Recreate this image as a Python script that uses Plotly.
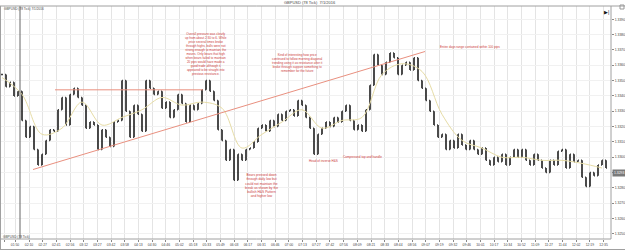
import plotly.graph_objects as go
import numpy as np

# ---- data ----
close = [1.3354, 1.3346, 1.3349, 1.3340, 1.3343, 1.3324, 1.3313, 1.3320, 1.3305, 1.3295,
         1.3302, 1.3311, 1.3318, 1.3317, 1.3331, 1.3339, 1.3321, 1.3341, 1.3345, 1.3339,
         1.3334, 1.3319, 1.3323, 1.3321, 1.3305, 1.3318, 1.3313, 1.3307, 1.3323, 1.3324,
         1.3350, 1.3330, 1.3313, 1.3334, 1.3328, 1.3317, 1.3350, 1.3345, 1.3341, 1.3343,
         1.3332, 1.3336, 1.3326, 1.3331, 1.3341, 1.3335, 1.3323, 1.3334, 1.3331, 1.3335,
         1.3344, 1.3350, 1.3343, 1.3337, 1.3318, 1.3311, 1.3298, 1.3305, 1.3285, 1.3302,
         1.3298, 1.3305, 1.3306, 1.3310, 1.3319, 1.3321, 1.3317, 1.3324, 1.3320, 1.3328,
         1.3324, 1.3330, 1.3331, 1.3327, 1.3337, 1.3334, 1.3326, 1.3319, 1.3302, 1.3315,
         1.3319, 1.3323, 1.3320, 1.3326, 1.3323, 1.3330, 1.3334, 1.3324, 1.3318, 1.3321,
         1.3317, 1.3331, 1.3347, 1.3367, 1.3360, 1.3354, 1.3362, 1.3368, 1.3365, 1.3354,
         1.3360, 1.3362, 1.3357, 1.3365, 1.3350, 1.3345, 1.3337, 1.3330, 1.3321, 1.3313,
         1.3315, 1.3305, 1.3311, 1.3306, 1.3315, 1.3308, 1.3305, 1.3311, 1.3305, 1.3302,
         1.3306, 1.3298, 1.3295, 1.3300, 1.3297, 1.3302, 1.3295, 1.3300, 1.3305, 1.3300,
         1.3305, 1.3298, 1.3295, 1.3302, 1.3298, 1.3293, 1.3290, 1.3298, 1.3295, 1.3304,
         1.3305, 1.3293, 1.3302, 1.3297, 1.3298, 1.3287, 1.3281, 1.3290, 1.3288, 1.3295,
         1.3298, 1.3293]

ma_bars = [0, 5, 10, 15, 20, 25, 30, 35, 40, 45, 50, 55, 60, 65, 70, 75, 80, 85, 90, 95,
           100, 105, 110, 115, 120, 125, 130, 135, 140, 145, 150]
ma_vals = [1.3352, 1.3341, 1.3315, 1.3319, 1.3336, 1.3321, 1.3326, 1.3331, 1.3339, 1.3334,
           1.3336, 1.3332, 1.3306, 1.3315, 1.3323, 1.3331, 1.3319, 1.3324, 1.3326, 1.3354,
           1.3361, 1.3356, 1.3328, 1.3311, 1.3306, 1.3300, 1.3300, 1.3298, 1.3298, 1.3296,
           1.3293]

resist_bars = [13.25, 50.25]
resist_vals = [1.3344, 1.3344]
trend_bars = [7.75, 105.75]
trend_vals = [1.3292, 1.3369]

x_tick_labels = ["01:33", "01:50", "02:10", "02:27", "02:41", "02:56", "03:12", "03:27", "03:42",
                 "03:58", "04:13", "04:30", "04:46", "05:02", "05:18", "05:33", "05:49", "06:03",
                 "06:17", "06:31", "06:46", "07:00", "07:13", "07:27", "07:42", "07:56", "08:09",
                 "08:21", "08:33", "08:44", "08:56", "09:07", "09:19", "09:32", "09:46", "10:01",
                 "10:17", "10:34", "10:52", "11:09", "11:27", "11:44", "12:02", "12:19", "12:35"]
y_tick_vals = [1.3250, 1.3260, 1.3270, 1.3280, 1.3290, 1.3300, 1.3310, 1.3320, 1.3330,
               1.3340, 1.3350, 1.3360, 1.3370, 1.3380, 1.3390]

# ---- geometry helpers (layout only) ----
W, H = 625, 251
L, R, T, B = 1, 14, 6, 12
PW, PH = W - L - R, H - T - B


def px(xp):
    return (xp - L) / PW


def py(yp):
    return (H - B - yp) / PH


bars = list(range(len(close)))
open_ = [close[0]] + close[:-1]
high = [max(o, c) for o, c in zip(open_, close)]
low = [min(o, c) for o, c in zip(open_, close)]

tick_px = [4, 15] + list(29 + 13.68 * np.arange(43))
tick_idx = [(p - 2) / 4 for p in tick_px]

fig = go.Figure()
fig.add_trace(go.Scatter(x=ma_bars, y=ma_vals, mode="lines",
                         line=dict(color="#e6dca6", width=1, shape="spline"),
                         hoverinfo="skip", showlegend=False))
fig.add_trace(go.Scatter(x=resist_bars, y=resist_vals, mode="lines",
                         line=dict(color="#e9907f", width=1), showlegend=False))
fig.add_trace(go.Scatter(x=trend_bars, y=trend_vals, mode="lines",
                         line=dict(color="#e9907f", width=1), showlegend=False))
fig.add_trace(go.Ohlc(x=bars, open=open_, high=high, low=low, close=close,
                      increasing=dict(line=dict(color="#111111", width=1.5)),
                      decreasing=dict(line=dict(color="#111111", width=1.5)),
                      tickwidth=0.2, showlegend=False))

red = "#cc3b3b"
F = "Liberation Sans"
ann = []


def add_text(xp, yp, text, size=3.1, color=red, xanchor="center", yanchor="top", bg=None):
    d = dict(x=px(xp), y=py(yp), xref="paper", yref="paper", text=text, showarrow=False,
             xanchor=xanchor, yanchor=yanchor, align="center",
             font=dict(family=F, size=size, color=color))
    if bg:
        d["bgcolor"] = bg
    ann.append(d)


add_text(206, 30, "<br>".join([
    "Overall pressure was clearly", "up from about 2:30 to 6. While",
    "price several times broke", "through highs, bulls were not",
    "strong enough to maintain the", "moves. Only bears that high",
    "when bears failed to maintain", "20 pips would have made a",
    "good trade although it", "appeared to be straight into",
    "previous resistance."]))
add_text(297, 51, "<br>".join([
    "Kind of interesting how price", "continued to follow morning diagonal",
    "trending using it as resistance after it", "broke through support something to",
    "remember for the future"]))
add_text(470, 47, "Entire days range contained within 100 pips", yanchor="middle")
add_text(261, 171, "<br>".join([
    "Bears pressed down", "through daily low but", "could not maintain the",
    "break as shown by the", "bullish H&S Pattern", "and higher low"]), size=3.3)
add_text(323, 161, "Head of inverse H&S", yanchor="middle")
add_text(362, 157, "Compressed top and handle", yanchor="middle")

# chart texts
add_text(310, 3, "GBPUSD (78 Tick)  7/1/2016", size=4, color="#444444", yanchor="middle")
add_text(2, 9.5, "GBPUSD (78 Tick) 7/1/2016", size=3.2, color="#444444", xanchor="left", yanchor="middle")
add_text(1, 236.5, "GBPUSD (78 Tick)", size=3.2, color="#444444", xanchor="left", yanchor="middle")
add_text(606, 12, "▶|", size=5, color="#111111", yanchor="middle")
add_text(612, 172.5, f"{close[-1]:.4f}", size=3.4, color="#ffffff",
         xanchor="left", yanchor="middle", bg="#7a7a7a")

shapes = [
    dict(type="line", xref="paper", yref="paper", x0=px(20), x1=px(20), y0=0, y1=1,
         line=dict(color="#666666", width=1)),
    dict(type="line", xref="paper", yref="paper", x0=px(0), x1=px(625), y0=1, y1=1,
         line=dict(color="#a0a0a0", width=1)),
    dict(type="line", xref="paper", yref="paper", x0=px(0), x1=px(611), y0=0, y1=0,
         line=dict(color="#a0a0a0", width=1)),
    dict(type="line", xref="paper", yref="paper", x0=1, x1=1, y0=0, y1=1,
         line=dict(color="#a0a0a0", width=1)),
    dict(type="line", xref="paper", yref="paper", x0=px(0), x1=px(625), y0=py(249.5), y1=py(249.5),
         line=dict(color="#a0a0a0", width=1)),
    dict(type="line", xref="paper", yref="paper", x0=px(0.5), x1=px(0.5), y0=py(249.5), y1=1,
         line=dict(color="#a0a0a0", width=1)),
    dict(type="rect", xref="paper", yref="paper", x0=px(620), x1=px(624), y0=py(9), y1=py(5),
         line=dict(color="#999999", width=1)),
]

y_top = 1.3390
yr = [y_top - 0.014332, y_top + 0.000868]

fig.update_layout(
    width=W, height=H, margin=dict(l=L, r=R, t=T, b=B, pad=0),
    template="none", paper_bgcolor="white", plot_bgcolor="white",
    showlegend=False, annotations=ann, shapes=shapes,
    xaxis=dict(range=[-0.25, 152.25], rangeslider=dict(visible=False), automargin=False,
               tickmode="array", tickvals=tick_idx, ticktext=x_tick_labels,
               tickfont=dict(family=F, size=3.4, color="#444444"), tickangle=0,
               ticks="outside", ticklen=2, tickcolor="#888888",
               showgrid=True, gridcolor="#e4e4e4", gridwidth=1, zeroline=False,
               showline=False),
    yaxis=dict(range=yr, side="right", automargin=False, tickmode="array",
               tickvals=y_tick_vals, ticktext=[f"{v:.4f}" for v in y_tick_vals],
               tickfont=dict(family=F, size=3.4, color="#444444"),
               ticks="outside", ticklen=2, tickcolor="#888888",
               showgrid=True, gridcolor="#f1f1f1", zeroline=False, showline=False),
)

fig.write_html("out.html")
